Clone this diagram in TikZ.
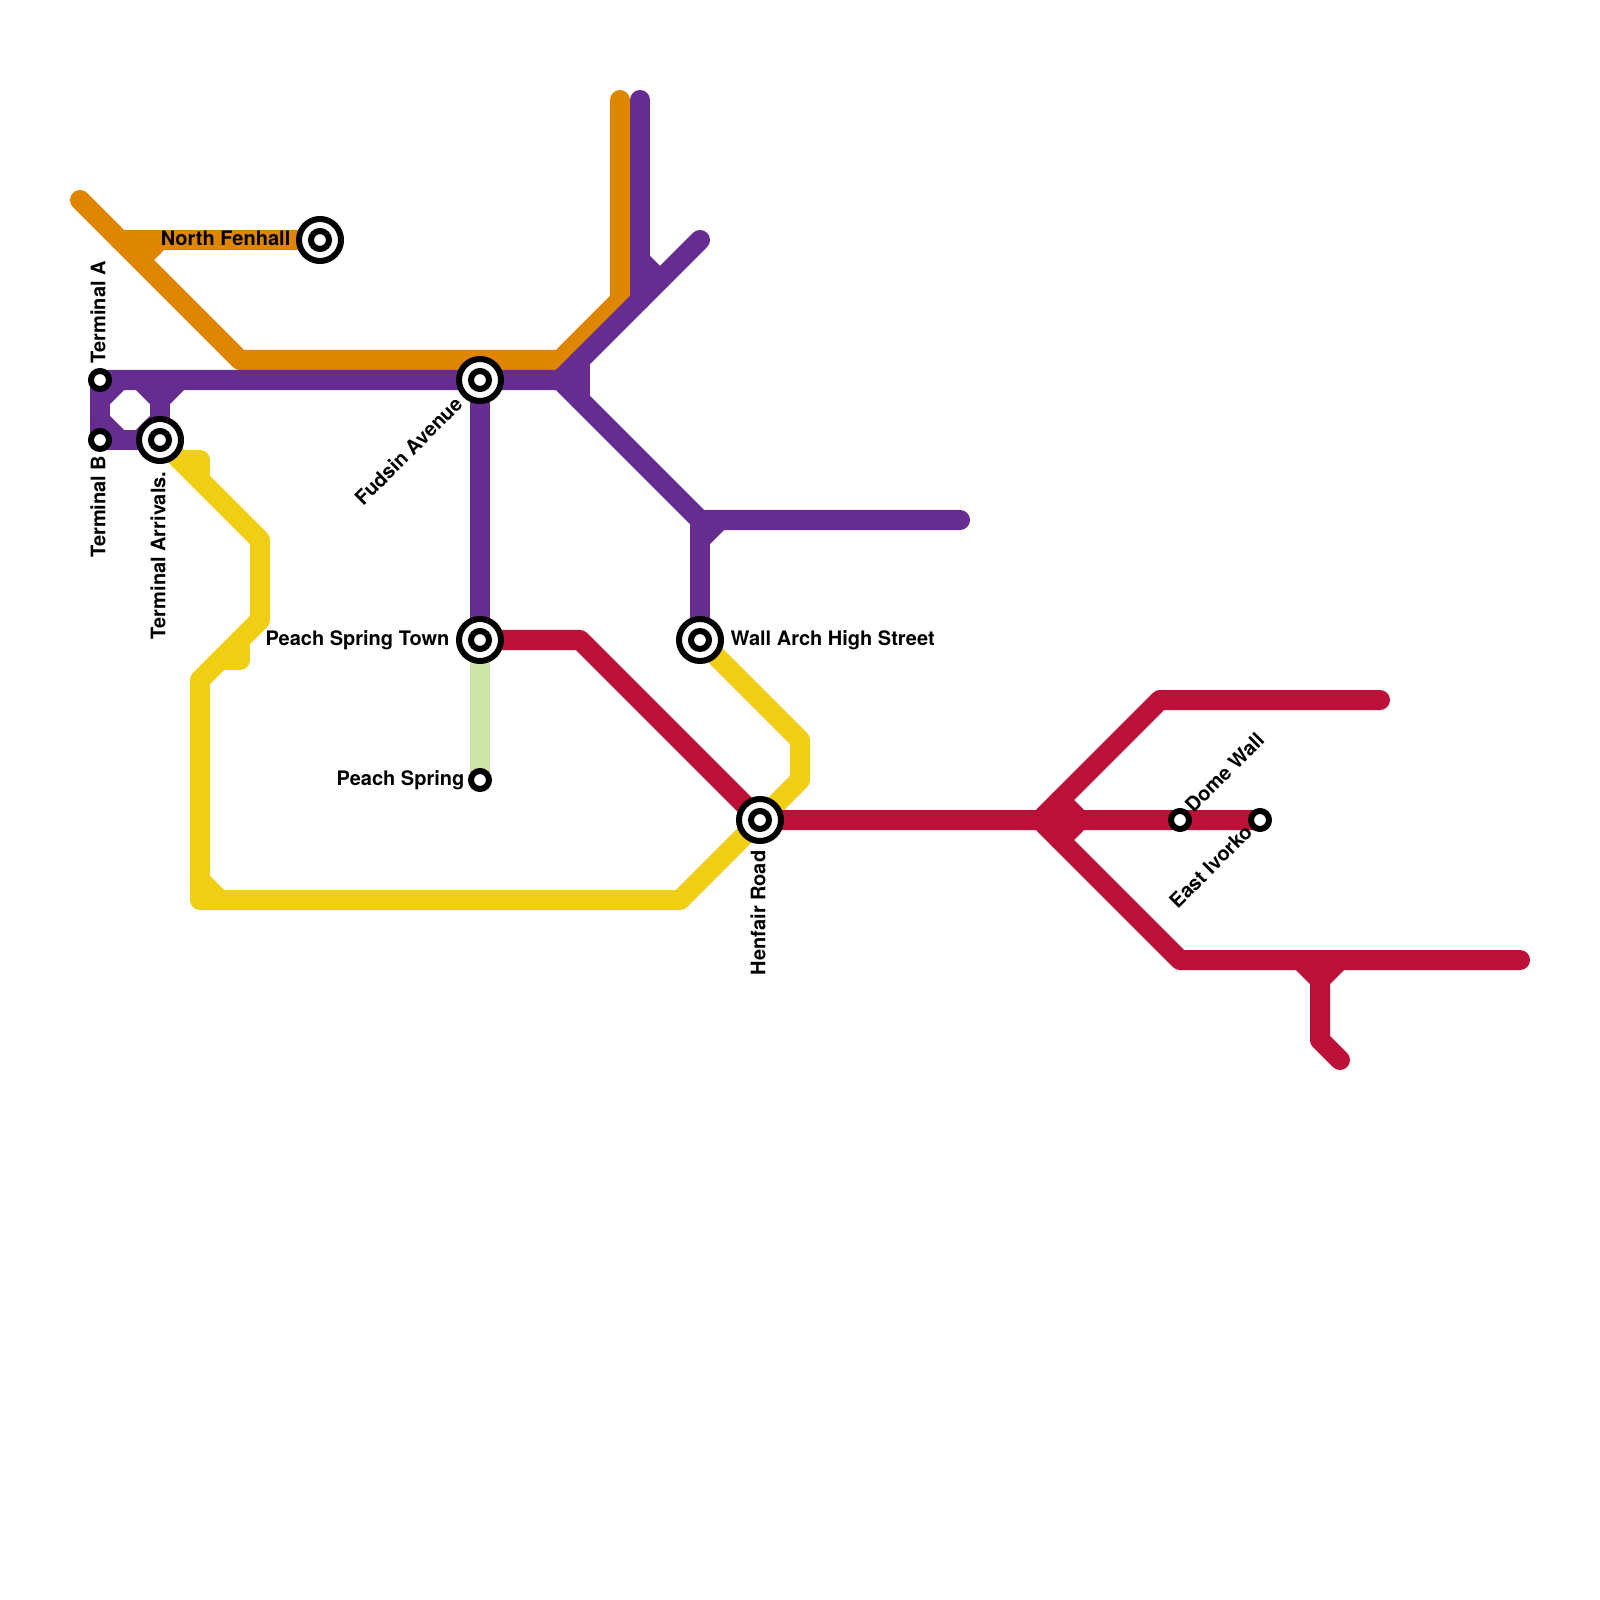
\documentclass[tikz,border=0pt]{standalone}
\usepackage{fontspec}
\setmainfont{TeX Gyre Heros}
\usetikzlibrary{backgrounds}
\definecolor{lineorange}{HTML}{DF8600}
\definecolor{linepurple}{HTML}{662C90}
\definecolor{lineyellow}{HTML}{F0CE15}
\definecolor{linered}{HTML}{BD1038}
\definecolor{linelime}{HTML}{CFE4A9}

\begin{document}
\begin{tikzpicture}[
  x=0.01cm, y=-0.01cm,
  metro/.style={line width=0.2cm, line cap=round, line join=round},
  orangeline/.style={metro, lineorange},
  purpleline/.style={metro, linepurple},
  yellowline/.style={metro, lineyellow},
  redline/.style={metro, linered},
  limeline/.style={metro, linelime},
  hub/.style={
    circle, draw=black, fill=white, line width=0.06cm, minimum size=0.42cm, inner sep=0pt,
    path picture={\draw[line width=0.06cm] (path picture bounding box.center) circle (0.09cm);}
  },
  halt/.style={
    circle, draw=black, fill=white, line width=0.06cm, minimum size=0.18cm, inner sep=0pt
  },
  place/.style={inner sep=0pt, font=\fontsize{5.69pt}{6pt}\selectfont\bfseries}
]
\useasboundingbox (0,0) rectangle (1600,1600);

% Stations
\node[hub] (fenhall) at (320,240) {};
\node[halt] (termA) at (100,380) {};
\node[halt] (termB) at (100,440) {};
\node[hub] (arrivals) at (160,440) {};
\node[hub] (fudsin) at (480,380) {};
\node[hub] (pstown) at (480,640) {};
\node[halt] (pspring) at (480,780) {};
\node[hub] (wallarch) at (700,640) {};
\node[hub] (henfair) at (760,820) {};
\node[halt] (domewall) at (1180,820) {};
\node[halt] (ivorko) at (1260,820) {};

% Station labels
\node[place, anchor=east] (lfenhall) at (291,238) {North Fenhall};
\node[place, anchor=west, rotate=90] (ltermA) at (98,364) {Terminal A};
\node[place, anchor=east, rotate=90] (ltermB) at (98,455) {Terminal B};
\node[place, anchor=east, rotate=90] (larrivals) at (158,471) {Terminal Arrivals.};
\node[place, anchor=east, rotate=45] (lfudsin) at (459,400) {Fudsin Avenue};
\node[place, anchor=east] (lpstown) at (450,640) {Peach Spring Town};
\node[place, anchor=east] (lpspring) at (465,780) {Peach Spring};
\node[place, anchor=west] (lwallarch) at (730,640) {Wall Arch High Street};
\node[place, anchor=east, rotate=90] (lhenfair) at (758,850) {Henfair Road};
\node[place, anchor=west, rotate=45] (ldomewall) at (1188,809) {Dome Wall};
\node[place, anchor=east, rotate=45] (livorko) at (1249,828) {East Ivorko};

% Bends and line ends
\coordinate (o1) at (80,200);    \coordinate (o2) at (240,360);
\coordinate (o3) at (560,360);   \coordinate (o4) at (620,300);
\coordinate (o5) at (620,100);   \coordinate (o6) at (120,240);
\coordinate (o7) at (160,240);   \coordinate (o8) at (140,260);

\coordinate (p1) at (560,380);   \coordinate (p2) at (700,240);
\coordinate (p3) at (640,100);   \coordinate (p4) at (640,300);
\coordinate (p5) at (640,260);   \coordinate (p6) at (660,280);
\coordinate (p7) at (700,520);   \coordinate (p8) at (960,520);
\coordinate (p9) at (700,540);   \coordinate (p10) at (720,520);
\coordinate (p11) at (580,360);  \coordinate (p12) at (580,400);
\coordinate (p13) at (100,400);  \coordinate (p14) at (120,380);
\coordinate (p15) at (100,420);  \coordinate (p16) at (120,440);
\coordinate (p17) at (140,380);  \coordinate (p18) at (160,400);
\coordinate (p19) at (180,380);  \coordinate (p20) at (140,440);
\coordinate (p21) at (160,420);

\coordinate (y1) at (260,540);   \coordinate (y2) at (260,620);
\coordinate (y3) at (200,680);   \coordinate (y4) at (200,900);
\coordinate (y5) at (680,900);   \coordinate (y6) at (800,780);
\coordinate (y7) at (800,740);   \coordinate (y8) at (180,460);
\coordinate (y9) at (200,460);   \coordinate (y10) at (200,480);
\coordinate (y11) at (220,660);  \coordinate (y12) at (240,660);
\coordinate (y13) at (240,640);  \coordinate (y14) at (200,880);
\coordinate (y15) at (220,900);

\coordinate (r1) at (580,640);   \coordinate (r2) at (1040,820);
\coordinate (r3) at (1160,700);  \coordinate (r4) at (1380,700);
\coordinate (r5) at (1180,960);  \coordinate (r6) at (1520,960);
\coordinate (r7) at (1060,800);  \coordinate (r8) at (1080,820);
\coordinate (r9) at (1060,840);  \coordinate (r10) at (1320,960);
\coordinate (r11) at (1320,1040); \coordinate (r12) at (1340,1060);
\coordinate (r13) at (1300,960); \coordinate (r14) at (1320,980);
\coordinate (r15) at (1340,960);

\begin{pgfonlayer}{background}
% Lime line
\draw[limeline] (pstown.center) -- (pspring.center);

% Yellow line
\draw[yellowline] (arrivals.center) -- (y1) -- (y2) -- (y3) -- (y4) -- (y5) -- (y6) -- (y7) -- (wallarch.center);
\draw[yellowline] (y8) -- (y9) -- (y10);
\draw[yellowline] (y11) -- (y12) -- (y13);
\draw[yellowline] (y14) -- (y15);

% Orange line
\draw[orangeline] (o1) -- (o2) -- (o3) -- (o4) -- (o5);
\draw[orangeline] (o6) -- (fenhall.center);
\draw[orangeline] (o7) -- (o8);

% Purple line
\draw[purpleline] (termA.center) -- (p1) -- (p2);
\draw[purpleline] (p3) -- (p4);
\draw[purpleline] (p5) -- (p6);
\draw[purpleline] (p1) -- (p7) -- (p8);
\draw[purpleline] (p7) -- (wallarch.center);
\draw[purpleline] (p9) -- (p10);
\draw[purpleline] (p11) -- (p12);
\draw[purpleline] (fudsin.center) -- (pstown.center);
\draw[purpleline] (termA.center) -- (termB.center) -- (arrivals.center);
\draw[purpleline] (p13) -- (p14);
\draw[purpleline] (p15) -- (p16);
\draw[purpleline] (p17) -- (p18) -- (p19);
\draw[purpleline] (p18) -- (arrivals.center);
\draw[purpleline] (p20) -- (p21);

% Red line
\draw[redline] (pstown.center) -- (r1) -- (henfair.center) -- (domewall.center) -- (ivorko.center);
\draw[redline] (r2) -- (r3) -- (r4);
\draw[redline] (r2) -- (r5) -- (r6);
\draw[redline] (r7) -- (r8) -- (r9);
\draw[redline] (r10) -- (r11) -- (r12);
\draw[redline] (r13) -- (r14) -- (r15);
\end{pgfonlayer}

\end{tikzpicture}
\end{document}
